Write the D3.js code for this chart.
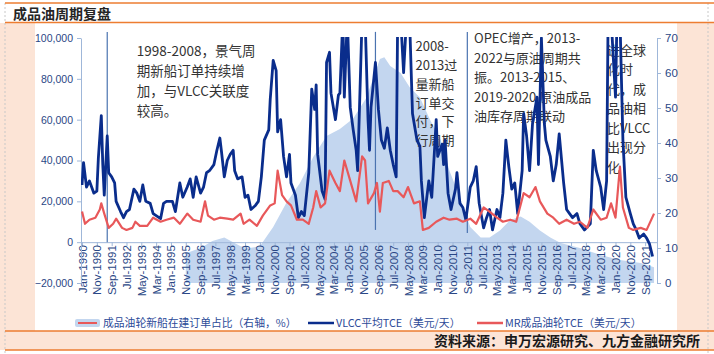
<!DOCTYPE html>
<html>
<head>
<meta charset="utf-8">
<script src="https://cdn.jsdelivr.net/npm/d3@7"></script>
<style>
  body { margin: 0; background: #fff; }
  svg text { font-family: "Noto Sans CJK SC", "Liberation Sans", sans-serif; }
</style>
</head>
<body>
<svg id="chart" width="714" height="354"></svg>
<script>
// 成品油周期复盘: VLCC / MR TCE (left axis, $/day) + tanker orderbook share (right axis, %)

// x categories: monthly, Jan-1990 = month 0; a label every 10 months
const tickLabels = [
  "Jan-1990","Nov-1990","Sep-1991","Jul-1992","May-1993","Mar-1994","Jan-1995","Nov-1995",
  "Sep-1996","Jul-1997","May-1998","Mar-1999","Jan-2000","Nov-2000","Sep-2001","Jul-2002",
  "May-2003","Mar-2004","Jan-2005","Nov-2005","Sep-2006","Jul-2007","May-2008","Mar-2009",
  "Jan-2010","Nov-2010","Sep-2011","Jul-2012","May-2013","Mar-2014","Jan-2015","Nov-2015",
  "Sep-2016","Jul-2017","May-2018","Mar-2019","Jan-2020","Nov-2020","Sep-2021"
];
const tickStep = 10;
const leftTicks = [-20000, 0, 20000, 40000, 60000, 80000, 100000];
const rightTicks = [0, 10, 20, 30, 40, 50, 60, 70];

// [month, % of fleet] — 成品油轮新船在建订单占比 (right axis)
const orderbookShare = [
  [70,8.5],[80,10],[88,12],[96,13],[107,10.5],[113,10],[120,10.5],[129,16],[138,23],[147,28.5],
  [156,36],[165,42],[174,44],[183,47],[192,53],[201,64],[204,64.5],[208,62],[215,60],[221,56],
  [228,53],[235,46.5],[242,41],[248,32],[255,24.5],[262,16],[269,13],[275,13],[282,15],[289,18],
  [296,19],[302,17.5],[309,15],[316,13],[323,11.4],[336,10],[350,8],[363,6.6],[377,5.7],[386,4.5]
];

// [month, thousand $/day] — VLCC平均TCE
const vlccTce = [
  [0,28],[1,39],[3,27],[5,30],[8,24],[10,25],[11,41],[13,62],[14,38],[15,23],[17,52],[18,34],
  [20,32],[22,29],[23,20],[26,15],[28,12],[30,15],[32,16],[35,26],[37,24],[39,20],[41,28],[43,20],
  [46,19],[48,14],[50,13],[53,11.5],[55,19],[57,20],[61,20],[63,15],[66,29],[68,22],[71,27],[73,31],
  [75,22],[77,32],[80,24],[82,27],[84,34],[86,35],[89,38],[91,45],[93,51],[94,45],[96,32],[98,40],
  [100,43],[102,45],[103,35],[105,31],[108,32],[110,22],[112,23],[114,16],[117,18],[119,20],[121,32],
  [123,50],[126,55],[127,70],[129,89],[131,84],[132,54],[134,60],[136,42],[138,32],[140,43],[141,29],
  [144,23],[146,12],[148,15],[150,13],[153,34],[155,75],[157,65],[158,77],[159,43],[162,25],[164,21],
  [165,88],[167,93],[168,73],[171,60],[173,72],[174,73],[176,110],[177,71],[179,110],[181,66],[183,55],
  [185,45],[186,35],[189,110],[191,110],[193,60],[194,45],[195,66],[198,88],[200,65],[202,50],[204,46],
  [206,56],[208,45],[210,38],[212,32],[213,110],[215,110],[217,83],[219,110],[221,110],[223,63],[226,50],
  [228,47],[229,30],[231,12],[234,30],[236,22],[238,47],[239,60],[240,42],[243,48],[244,38],[245,50],
  [247,24],[249,16],[252,26],[253,34],[255,19],[257,17],[259,11],[262,27],[264,30],[266,37],[268,19],
  [271,7],[273,12],[275,16],[277,6],[280,16],[282,12],[284,24],[286,50],[288,37],[290,26],[292,29],
  [294,14],[297,35],[298,63],[300,52],[302,35],[304,58],[307,71],[308,38],[310,100],[312,58],[313,50],
  [316,42],[318,30],[320,38],[322,53],[325,29],[327,16],[329,14],[331,12],[334,14],[336,9],[339,6],
  [343,9],[345,45],[347,35],[350,27],[352,16],[354,30],[355,110],[357,110],[360,71],[361,110],[363,110],
  [365,50],[367,22],[370,14],[372,9],[374,6],[376,2],[379,4],[381,2],[383,-1],[385,-7]
];

// [month, thousand $/day] — MR成品油轮TCE
const mrTce = [
  [0,15],[2,9],[5,11],[9,12],[12,16],[13,19],[15,14],[18,7],[21,9],[23,11.5],[27,7],[30,6],[34,7],
  [36,10],[39,8],[44,8],[48,12],[53,10],[57,11],[62,12],[66,9],[71,14],[75,11],[80,10],[83,20],[85,13],
  [89,11],[93,12],[98,11.5],[102,11],[107,14],[109,9],[113,11],[118,8],[122,13],[127,18],[130,19],
  [132,35],[135,23],[138,20],[141,18],[145,11],[149,11],[153,9],[156,17],[158,25],[161,17],[164,19],
  [167,35],[171,29],[174,25],[177,40],[181,30],[185,20],[189,42],[191,40],[193,19],[197,24],[199,29],
  [201,15],[203,29],[207,30],[210,25],[213,25],[217,22],[220,27],[224,19],[228,20],[230,6],[234,7],
  [239,10],[244,12],[248,11],[253,11.5],[257,10],[262,11.5],[266,9],[271,17],[275,15],[280,12],[284,10],
  [289,11],[293,10],[298,24],[302,22],[306,27],[309,20],[314,14],[318,12],[322,9],[327,11],[332,9],
  [336,10],[341,7],[345,16],[350,11],[354,12],[357,19],[360,12],[363,37],[365,17],[369,7],[372,6],
  [377,7],[381,6],[386,14]
];

// vertical divider lines: month, bottom (left-axis $), top
const markerMonths = [17, 198, 260];
const markerBottom = [0, 6000, 4500];
const markerTop = 103000;

// text boxes: anchor month, first baseline value (left axis), lines
const notes = [
  { month: 37, value: 91000, size: 13.5, gap: 19.8, lines: ["1998-2008，景气周", "期新船订单持续增", "加，与VLCC关联度", "较高。"] },
  { month: 225, value: 93400, size: 13, gap: 18.7, lines: ["2008-", "2013过", "量新船", "订单交", "付，下", "行周期"] },
  { month: 264.5, value: 97400, size: 13, gap: 19.4, lines: ["OPEC增产，2013-", "2022与原油周期共", "振。2013-2015、", "2019-2020 原油成品", "油库存周期联动"] },
  { month: 354.3, value: 91700, size: 13, gap: 19.5, lines: ["进全球", "化时", "代，成", "品油相", "比VLCC", "出现分", "化"] }
];

const seriesNames = ["成品油轮新船在建订单占比（右轴，%）", "VLCC平均TCE（美元/天）", "MR成品油轮TCE（美元/天）"];
const colors = { area: "#c3d6ef", vlcc: "#0a2d8c", mr: "#e8585a", axis: "#9fb7d9", label: "#2a4785" };

const svg = d3.select("#chart");
const W = 714, H = 354;
const plot = { left: 81, right: 657, top: 38, bottom: 283 };

// page frame: peach side strips, orange rules, footer
const peach = "#fce4d6", orange = "#ed7d31";
svg.append("rect").attr("x", 0).attr("y", 23).attr("width", 35).attr("height", 308).attr("fill", peach);
svg.append("rect").attr("x", 677).attr("y", 23).attr("width", W - 677).attr("height", 308).attr("fill", peach);
svg.append("rect").attr("x", 0).attr("y", 331).attr("width", W).attr("height", 19).attr("fill", peach);
[5, 708].forEach(x => svg.append("line").attr("x1", x).attr("x2", x).attr("y1", 3).attr("y2", H)
  .attr("stroke", "#c8c8c8").attr("stroke-dasharray", "2,2"));
[3, 22.5, 331, 350].forEach(y => svg.append("line").attr("x1", 5).attr("x2", W).attr("y1", y).attr("y2", y)
  .attr("stroke", orange).attr("stroke-width", 1.3));

svg.append("text").attr("x", 13).attr("y", 18.5)
  .style("font-size", "14px").style("font-weight", "700").attr("fill", "#262626")
  .text("成品油周期复盘");
svg.append("text").attr("x", 700).attr("y", 345.5).attr("text-anchor", "end")
  .style("font-size", "14px").style("font-weight", "700").attr("fill", "#1a1a1a")
  .text("资料来源：申万宏源研究、九方金融研究所");

// scales
const x = d3.scaleLinear().domain([-0.7, 388]).range([plot.left, plot.right]);
const yL = d3.scaleLinear().domain([-20000, 100000]).range([plot.bottom, plot.top]);
const yR = d3.scaleLinear().domain([0, 70]).range([plot.bottom, plot.top]);

svg.append("clipPath").attr("id", "plotClip").append("rect")
  .attr("x", plot.left).attr("y", plot.top - 1).attr("width", plot.right - plot.left).attr("height", plot.bottom - plot.top + 1);

// orderbook share area
svg.append("path").datum(orderbookShare)
  .attr("clip-path", "url(#plotClip)")
  .attr("fill", colors.area)
  .attr("d", d3.area().x(d => x(d[0])).y0(yR(0)).y1(d => yR(d[1])));

// x axis at left-axis zero
const xAxis = svg.append("g").attr("transform", `translate(0,${yL(0)})`)
  .call(d3.axisBottom(x).tickValues(tickLabels.map((_, i) => i * tickStep))
    .tickFormat((_, i) => tickLabels[i]).tickSize(4).tickSizeOuter(0));
xAxis.select(".domain").attr("stroke", colors.axis);
xAxis.selectAll(".tick line").attr("stroke", colors.axis);
xAxis.selectAll(".tick text")
  .attr("fill", colors.label).style("font-family", "'Liberation Sans', Arial, sans-serif").style("font-size", "11.5px")
  .attr("text-anchor", "end").attr("transform", "translate(0,3) rotate(-90)")
  .attr("x", 0).attr("y", 0).attr("dx", 0).attr("dy", "0.35em");

// left axis
const leftAxis = svg.append("g").attr("transform", `translate(${plot.left},0)`)
  .call(d3.axisLeft(yL).tickValues(leftTicks).tickFormat(d3.format(",")).tickSize(4).tickSizeOuter(0));
leftAxis.select(".domain").attr("stroke", colors.axis);
leftAxis.selectAll(".tick line").attr("stroke", colors.axis);
leftAxis.selectAll(".tick text").attr("fill", colors.label)
  .style("font-family", "'Liberation Sans', Arial, sans-serif").style("font-size", "10.5px").attr("x", -8);

// right axis
const rightAxis = svg.append("g").attr("transform", `translate(${plot.right},0)`)
  .call(d3.axisRight(yR).tickValues(rightTicks).tickSize(4).tickSizeOuter(0));
rightAxis.select(".domain").attr("stroke", colors.axis);
rightAxis.selectAll(".tick line").attr("stroke", colors.axis);
rightAxis.selectAll(".tick text").attr("fill", colors.label)
  .style("font-family", "'Liberation Sans', Arial, sans-serif").style("font-size", "11.5px").attr("x", 8);

// annotation text (lines are drawn over it)
notes.forEach(n => {
  const t = svg.append("text").attr("fill", "#333").style("font-size", n.size + "px");
  n.lines.forEach((s, i) => t.append("tspan").attr("x", x(n.month)).attr("y", yL(n.value) + i * n.gap).text(s));
});

// divider lines
markerMonths.forEach((m, i) => svg.append("line")
  .attr("x1", x(m)).attr("x2", x(m)).attr("y1", yL(markerTop)).attr("y2", yL(markerBottom[i]))
  .attr("stroke", "#4a73b0").attr("stroke-width", 1.2));

// TCE lines
const line = d3.line().x(d => x(d[0])).y(d => yL(d[1] * 1000));
svg.append("path").datum(vlccTce).attr("clip-path", "url(#plotClip)")
  .attr("fill", "none").attr("stroke", colors.vlcc).attr("stroke-width", 2.8).attr("stroke-linejoin", "round")
  .attr("d", line);
svg.append("path").datum(mrTce).attr("clip-path", "url(#plotClip)")
  .attr("fill", "none").attr("stroke", colors.mr).attr("stroke-width", 2.2).attr("stroke-linejoin", "round")
  .attr("d", line);

// legend
const legendX = [75, 308, 477];
const lg = svg.append("g").attr("transform", "translate(0,323)");
seriesNames.forEach((name, i) => {
  const g = lg.append("g").attr("transform", `translate(${legendX[i]},0)`);
  if (i === 0) {
    g.append("rect").attr("x", 0).attr("y", -4).attr("width", 25).attr("height", 8).attr("rx", 2).attr("fill", colors.area);
    g.append("line").attr("x1", 3).attr("x2", 22).attr("y1", 0).attr("y2", 0).attr("stroke", colors.mr).attr("stroke-width", 2);
  } else {
    g.append("line").attr("x1", 0).attr("x2", 26).attr("y1", 0).attr("y2", 0)
      .attr("stroke", i === 1 ? colors.vlcc : colors.mr).attr("stroke-width", 2.5);
  }
  g.append("text").attr("x", 28).attr("y", 0).attr("dy", "0.35em")
    .attr("fill", "#2c4a98").style("font-size", "10.8px").text(name);
});
</script>
</body>
</html>
